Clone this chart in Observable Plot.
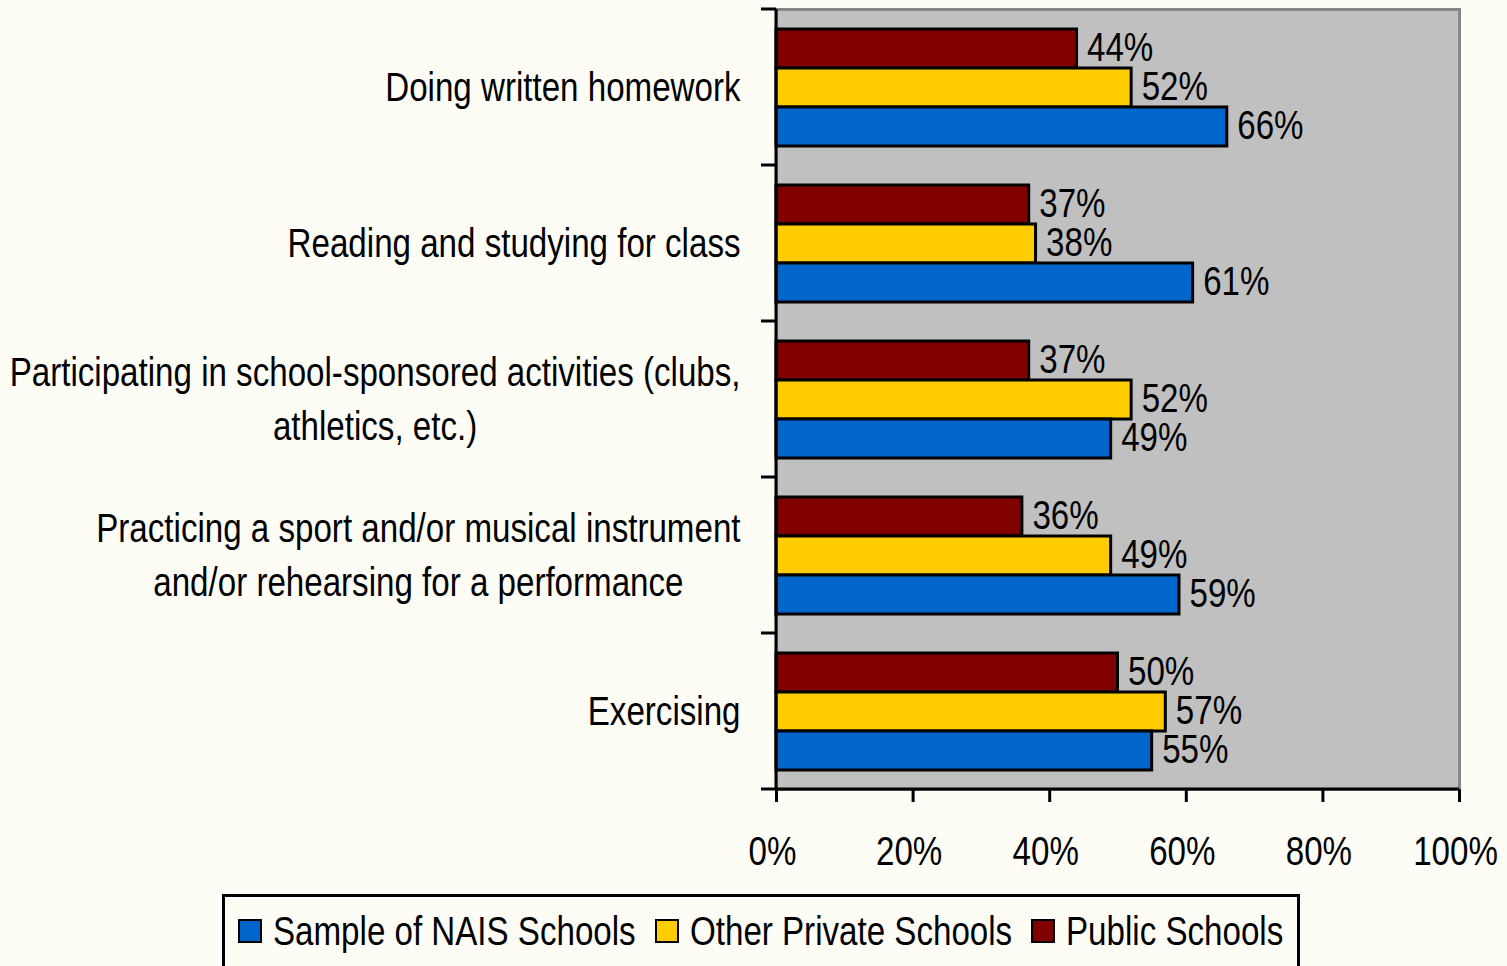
<!DOCTYPE html>
<html><head><meta charset="utf-8">
<script src="https://cdn.jsdelivr.net/npm/d3@7"></script>
<script src="https://cdn.jsdelivr.net/npm/@observablehq/plot@0.6"></script>
<style>
body{margin:0;background:#fdfdf6;font-family:"Liberation Sans Narrow","Arial Narrow","Liberation Sans",Arial,sans-serif;}
#chart{position:absolute;left:0;top:0;}
#legend{position:absolute;left:222px;top:894px;width:1078px;border:3px solid #000;box-sizing:border-box;display:flex;align-items:center;padding:0 0 0 13px;height:80px;white-space:nowrap;}
#legend .item{display:flex;align-items:center;font-size:40px;line-height:40px;color:#000;margin-top:-6px;}
#legend .sw{width:20px;height:20px;border:2px solid #000;margin-right:11px;flex:none;}
#legend .lab{display:inline-block;transform-origin:0 50%;}
</style></head>
<body>
<div id="chart"></div>
<div id="legend"></div>
<script>
const categories = [
  "Doing written homework",
  "Reading and studying for class",
  "Participating in school-sponsored activities (clubs,\nathletics, etc.)",
  "Practicing a sport and/or musical instrument\nand/or rehearsing for a performance",
  "Exercising"
];
const seriesNames = ["Sample of NAIS Schools", "Other Private Schools", "Public Schools"];
const seriesColors = ["#0066cc", "#ffcc00", "#800000"];
const naisValues = [66, 61, 49, 59, 55];
const otherPrivateValues = [52, 38, 52, 49, 57];
const publicValues = [44, 37, 37, 36, 50];
const xTicks = [0, 20, 40, 60, 80, 100];

const seriesValues = [naisValues, otherPrivateValues, publicValues];
const rows = [];
categories.forEach((c, i) => {
  [2, 1, 0].forEach(s => rows.push({category: c, series: seriesNames[s], value: seriesValues[s][i]}));
});

const FONT = "'Liberation Sans Narrow','Arial Narrow','Liberation Sans',Arial,sans-serif";
const K = 0.828; // horizontal condensing to mimic a narrow face
const pct = d => d + "%";

const plot = Plot.plot({
  width: 1507, height: 890,
  marginLeft: 776, marginRight: 48, marginTop: 8, marginBottom: 100,
  style: {fontFamily: FONT, fontSize: "40px", background: "transparent", color: "#000", overflow: "visible"},
  x: {domain: [0, 100], ticks: xTicks, tickFormat: pct},
  y: {domain: [seriesNames[2], seriesNames[1], seriesNames[0]], paddingInner: 0, paddingOuter: 0.49, axis: null},
  fy: {domain: categories, padding: 0},
  color: {domain: seriesNames, range: seriesColors},
  marks: [
    Plot.frame({facet: "super", fill: "#c0c0c0", stroke: "#878787", strokeWidth: 3}),
    Plot.barX(rows, {fy: "category", y: "series", x: "value", fill: "series", stroke: "#000", strokeWidth: 3, insetTop: 0, insetBottom: 0}),
    Plot.text(rows, {fy: "category", y: "series", x: "value", text: d => pct(d.value), textAnchor: "start", dx: 10, dy: -1, fontSize: 40, fill: "#000"}),
    Plot.axisX({ticks: xTicks, tickFormat: () => "", tickSize: 13, strokeWidth: 3, label: null}),
    Plot.axisX({ticks: xTicks, tickFormat: pct, tickSize: 0, tickPadding: 47, fontSize: 40, dx: -4, label: null}),
    Plot.axisFy({anchor: "left", tickSize: 0, tickPadding: 36, dy: -4, label: null, fontSize: 40, lineHeight: 1.35})
  ]
});
document.getElementById("chart").append(plot);
const svg = d3.select(plot);

// condense all texts horizontally
svg.selectAll("text").each(function() {
  const tspans = Array.from(this.querySelectorAll("tspan"));
  const parts = tspans.length ? tspans : [this];
  const widths = parts.map(p => p.getComputedTextLength() * K);
  parts.forEach((p, i) => {
    if (widths[i] > 0) {
      p.setAttribute("textLength", widths[i]);
      p.setAttribute("lengthAdjust", "spacingAndGlyphs");
    }
  });
  if (tspans.length > 1) {
    const maxW = d3.max(widths);
    this.setAttribute("text-anchor", "middle");
    tspans.forEach(t => t.setAttribute("x", (+t.getAttribute("x") || 0) - maxW / 2));
  }
});

// structural lines from the scales
const xs = plot.scale("x"), fys = plot.scale("fy");
const x0 = xs.apply(0), x1 = xs.apply(100);
const tops = fys.domain.map(d => fys.apply(d));
const bottom = tops[tops.length - 1] + fys.bandwidth;
const bounds = [...tops, bottom];
const g = svg.append("g").attr("stroke", "#000").attr("stroke-width", 3);
g.append("line").attr("x1", x0).attr("x2", x0).attr("y1", tops[0]).attr("y2", bottom);
g.append("line").attr("x1", x0).attr("x2", x1).attr("y1", bottom).attr("y2", bottom);
bounds.forEach(b => g.append("line").attr("x1", x0 - 15).attr("x2", x0).attr("y1", b).attr("y2", b));

// legend
const legend = d3.select("#legend");
seriesNames.forEach((n, i) => {
  const it = legend.append("div").attr("class", "item");
  it.append("div").attr("class", "sw").style("background", seriesColors[i]);
  const lab = it.append("span").attr("class", "lab").text(n);
  const w = lab.node().getBoundingClientRect().width;
  lab.style("transform", `scaleX(${K})`).style("margin-right", `${-w * (1 - K) + 19}px`);
});
</script>
</body></html>
